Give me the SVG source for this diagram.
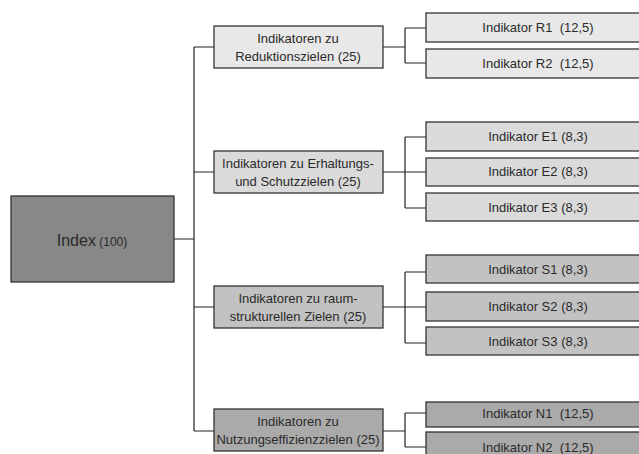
<svg xmlns="http://www.w3.org/2000/svg" width="639" height="454" viewBox="0 0 639 454">
<style>
.b{stroke:#333;stroke-width:1.3}
text{font-family:"Liberation Sans",Arial,sans-serif;font-size:13px;fill:#2a2a2a;text-anchor:middle}
.c{fill:none;stroke:#222;stroke-width:1.2}
.r{fill:#e8e8e8}.e{fill:#dadada}.s{fill:#c2c2c2}.n{fill:#aaaaaa}
</style>
<rect width="639" height="454" fill="#fff"/>
<g id="connectors" class="c">
<path d="M174 239H194M194 47V431M194 47H214M194 172H214M194 307H214M194 431H214"/>
<path d="M383 47H405M405 28V63M405 28H426M405 63H426"/>
<path d="M383 172H405M405 137V208M405 137H426M405 172H426M405 208H426"/>
<path d="M383 307H405M405 272V343M405 272H426M405 307H426M405 343H426"/>
<path d="M383 431H405M405 413V447M405 413H426M405 447H426"/>
</g>
<g id="index"><rect class="b" x="11" y="196" width="163" height="86" fill="#888"/><text x="92" y="246"><tspan font-size="16">Index</tspan><tspan font-size="12"> (100)</tspan></text></g>
<g id="red"><rect class="b r" x="214" y="26" width="169" height="42"/><text x="298" y="43">Indikatoren zu</text><text x="298" y="61">Reduktionszielen (25)</text></g>
<g id="erh"><rect class="b e" x="214" y="151" width="169" height="42"/><text x="298" y="168">Indikatoren zu Erhaltungs-</text><text x="298" y="186">und Schutzzielen (25)</text></g>
<g id="raum"><rect class="b s" x="214" y="286" width="169" height="42"/><text x="298" y="303">Indikatoren zu raum-</text><text x="298" y="321">strukturellen Zielen (25)</text></g>
<g id="nutz"><rect class="b n" x="214" y="409" width="169" height="42"/><text x="298" y="426">Indikatoren zu</text><text x="298" y="444">Nutzungseffizienzzielen (25)</text></g>
<g id="r1"><rect class="b r" x="426" y="13" width="224" height="29"/><text x="538" y="32" xml:space="preserve">Indikator R1  (12,5)</text></g>
<g id="r2"><rect class="b r" x="426" y="49" width="224" height="29"/><text x="538" y="68" xml:space="preserve">Indikator R2  (12,5)</text></g>
<g id="e1"><rect class="b e" x="426" y="122" width="224" height="29"/><text x="538" y="141">Indikator E1 (8,3)</text></g>
<g id="e2"><rect class="b e" x="426" y="158" width="224" height="28"/><text x="538" y="176">Indikator E2 (8,3)</text></g>
<g id="e3"><rect class="b e" x="426" y="193" width="224" height="28"/><text x="538" y="212">Indikator E3 (8,3)</text></g>
<g id="s1"><rect class="b s" x="426" y="255" width="224" height="28"/><text x="538" y="274">Indikator S1 (8,3)</text></g>
<g id="s2"><rect class="b s" x="426" y="292" width="224" height="29"/><text x="538" y="311">Indikator S2 (8,3)</text></g>
<g id="s3"><rect class="b s" x="426" y="327" width="224" height="28"/><text x="538" y="346">Indikator S3 (8,3)</text></g>
<g id="n1"><rect class="b n" x="426" y="402" width="224" height="25"/><text x="538" y="418" xml:space="preserve">Indikator N1  (12,5)</text></g>
<g id="n2"><rect class="b n" x="426" y="432" width="224" height="30"/><text x="538" y="452" xml:space="preserve">Indikator N2  (12,5)</text></g>
</svg>
